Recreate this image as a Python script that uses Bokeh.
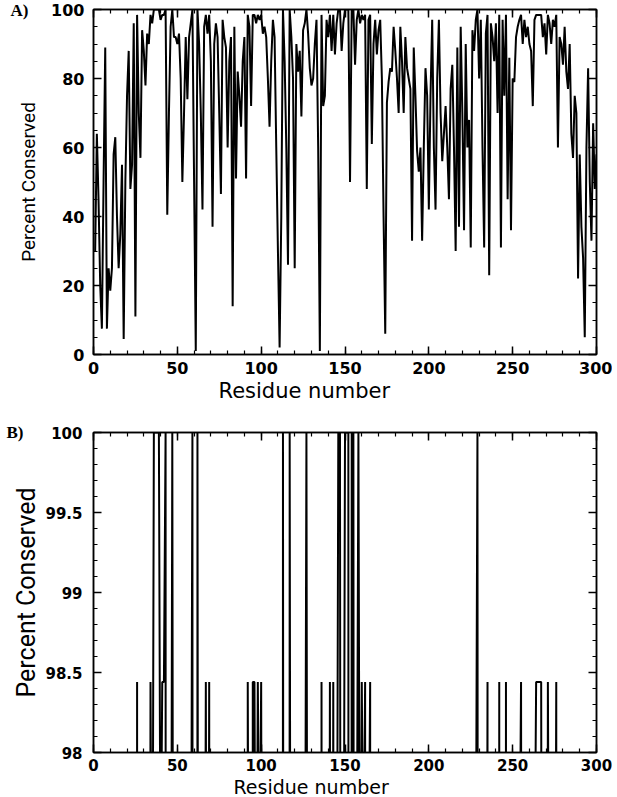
from bokeh.plotting import figure
from bokeh.models import Range1d, FixedTicker, LinearAxis, CustomJSTickFormatter, Title
from bokeh.layouts import column
from bokeh.embed import file_html
from bokeh.resources import INLINE

# Percent conserved per residue
cons_001_050 = [30, 64, 45, 20, 7.5, 50, 89, 7.5, 25, 18.5,
                25, 58, 63, 40, 25, 35, 55, 4.5, 50, 75,
                88, 48, 55, 96, 11, 98.44, 70, 57, 94, 88,
                78, 93, 90, 98.44, 96, 100, 100, 100, 100, 97,
                98.44, 98.44, 100, 40.5, 70, 95, 100, 92, 92, 90]
cons_051_100 = [93, 80, 50, 70, 92, 74, 92, 96, 100, 50,
                1, 100, 90, 70, 42, 95, 98.44, 93, 98.44, 85,
                37, 90, 96, 92, 70, 46.5, 97, 92, 89, 60,
                85, 92, 14, 95, 51, 82, 75, 66, 85, 92,
                51, 98.44, 95, 72, 98.44, 98.44, 96, 98.44, 97, 98.44]
cons_101_150 = [93, 95, 92, 80, 66, 85, 97, 92, 60, 30,
                2, 40, 100, 85, 60, 26, 100, 92, 80, 25,
                90, 82, 88, 69, 94, 96, 100, 93, 83, 78,
                80, 90, 97, 60, 1, 98.44, 72, 75, 97, 92,
                98.44, 88, 98.44, 87, 96, 100, 100, 88, 96, 100]
cons_151_200 = [100, 100, 50, 100, 100, 84, 97, 100, 96, 98.44,
                97, 98.44, 48, 97, 98.44, 61, 90, 97, 87, 94,
                97, 80, 40, 6, 73, 79, 83, 82, 95, 88,
                80, 70, 95, 85, 70, 92, 83, 80, 77, 33,
                89, 75, 59, 53, 60, 33, 60, 83, 75, 42]
cons_201_250 = [75, 97, 60, 42, 80, 97, 70, 56, 64, 72,
                60, 45, 77, 84, 60, 30, 89, 37, 95, 70,
                36, 90, 60, 68, 31, 94, 88, 97, 100, 80,
                97, 60, 31, 93, 98.44, 23, 96, 92, 85, 96,
                70, 98.44, 31, 97, 75, 98.44, 45, 86, 36, 80]
cons_251_300 = [79, 92, 95, 97, 98.44, 90, 97, 92, 95, 90,
                88, 72, 97, 98.44, 98.44, 98.44, 98.44, 92, 96, 87,
                98.44, 96, 90, 97, 95, 98.44, 60, 92, 90, 84,
                95, 82, 77, 90, 64, 57, 75, 70, 22, 58,
                37, 28, 5, 60, 83, 50, 33, 67, 48, 58]

conserved = cons_001_050 + cons_051_100 + cons_101_150 + cons_151_200 + cons_201_250 + cons_251_300
residues = list(range(1, len(conserved) + 1))

x_ticks = [0, 50, 100, 150, 200, 250, 300]
x_minor = [v for v in range(0, 301, 10)]
a_y_ticks = [0, 20, 40, 60, 80, 100]
a_y_minor = [v for v in range(0, 101, 5)]
b_y_ticks = [98, 98.5, 99, 99.5, 100]
b_y_minor = [98 + i / 10 for i in range(21)]

TICK_FONT = "DejaVu Sans"
LABEL_FONT = "Roboto"


def style_axis(ax, size, standoff):
    ax.major_tick_in = 8
    ax.major_tick_out = 0
    ax.minor_tick_in = 4
    ax.minor_tick_out = 0
    ax.axis_line_color = "black"
    ax.axis_line_width = 1.5
    ax.major_tick_line_width = 1.5
    ax.minor_tick_line_width = 1.2
    ax.major_label_text_font = TICK_FONT
    ax.major_label_text_font_style = "bold"
    ax.major_label_text_font_size = size
    ax.major_label_text_color = "black"
    ax.major_label_standoff = standoff


def make_panel(height, yr, yt, ym, borders, xstand, ystand, size, ylab_size, xlab_size,
               ylab_standoff, xlab_offset, tag, tag_standoff, yfmt=None):
    p = figure(width=612, height=height, x_range=Range1d(0, 300), y_range=Range1d(*yr),
               output_backend="svg", toolbar_location=None,
               min_border_left=borders[0], min_border_right=borders[1],
               min_border_top=borders[2], min_border_bottom=borders[3])
    p.line(residues, conserved, line_color="black", line_width=2)
    p.xgrid.visible = False
    p.ygrid.visible = False
    p.outline_line_color = "black"
    p.outline_line_width = 1.5
    p.background_fill_color = "white"
    p.border_fill_color = "white"
    p.xaxis.ticker = FixedTicker(ticks=x_ticks, minor_ticks=x_minor)
    p.yaxis.ticker = FixedTicker(ticks=yt, minor_ticks=ym)
    style_axis(p.xaxis[0], size, xstand)
    style_axis(p.yaxis[0], size, ystand)
    if yfmt is not None:
        p.yaxis.formatter = yfmt
    p.yaxis.axis_label = "Percent Conserved"
    p.yaxis.axis_label_text_font = LABEL_FONT
    p.yaxis.axis_label_text_font_style = "normal"
    p.yaxis.axis_label_text_font_size = ylab_size
    p.yaxis.axis_label_standoff = ylab_standoff
    p.yaxis.axis_label_text_color = "black"
    blank = CustomJSTickFormatter(code="return '';")
    top = LinearAxis(ticker=FixedTicker(ticks=x_ticks, minor_ticks=x_minor), formatter=blank)
    right = LinearAxis(ticker=FixedTicker(ticks=yt, minor_ticks=ym), formatter=blank)
    for ax in (top, right):
        style_axis(ax, "1px", 0)
    p.add_layout(top, "above")
    p.add_layout(right, "right")
    # x-axis title, placed a little left of centre as in the reference
    p.add_layout(Title(text="Residue number", align="left", offset=xlab_offset, standoff=0,
                       text_font="DejaVu Sans", text_font_style="normal",
                       text_font_size=xlab_size, text_color="black"), "below")
    # panel tag ("A)" / "B)") drawn as the single label of an outer, line-less axis
    tag_axis = LinearAxis(ticker=FixedTicker(ticks=[yr[1]], minor_ticks=[]),
                          formatter=CustomJSTickFormatter(code="return %r;" % tag))
    tag_axis.axis_line_color = None
    tag_axis.major_tick_line_color = None
    tag_axis.minor_tick_line_color = None
    tag_axis.major_tick_in = 0
    tag_axis.major_tick_out = 0
    tag_axis.minor_tick_in = 0
    tag_axis.minor_tick_out = 0
    tag_axis.major_label_text_font = "Liberation Serif"
    tag_axis.major_label_text_font_style = "bold"
    tag_axis.major_label_text_font_size = "17px"
    tag_axis.major_label_text_color = "black"
    tag_axis.major_label_standoff = tag_standoff
    p.add_layout(tag_axis, "left")
    return p


pA = make_panel(405, (0, 100), a_y_ticks, a_y_minor, (93, 16, 9, 51), 7, 9,
                "16px", "19px", "21px", 8, 125, "A)", -14)

bfmt = CustomJSTickFormatter(code="return String(tick);")
pB = make_panel(392, (98, 100), b_y_ticks, b_y_minor, (93, 16, 27, 45), 6, 11,
                "15px", "25px", "19px", 1, 140, "B)", -14, bfmt)

layout = column(pA, pB)
open("out.html", "w").write(file_html(layout, INLINE))
